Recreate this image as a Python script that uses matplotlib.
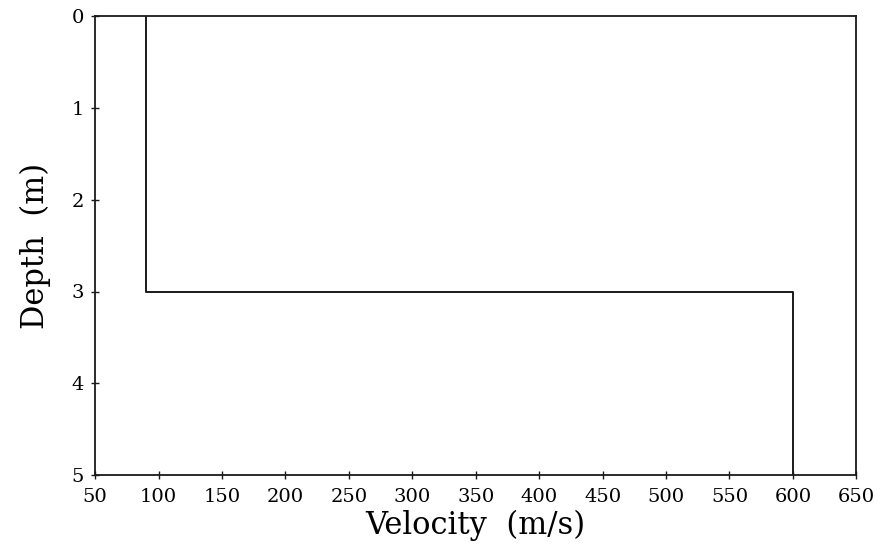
import matplotlib
matplotlib.use("Agg")
import matplotlib.pyplot as plt

# Layered velocity model (step profile)
depth = [0, 3, 3, 5]
velocity = [90, 90, 600, 600]

xticks = [50, 100, 150, 200, 250, 300, 350, 400, 450, 500, 550, 600, 650]
yticks = [0, 1, 2, 3, 4, 5]

plt.rcParams['font.family'] = ['DejaVu Serif']

fig = plt.figure(figsize=(8.81, 5.5), dpi=100)
ax = fig.add_axes([0.108, 0.136, 0.864, 0.835])

ax.plot(velocity, depth, color='#1a1a1a', linewidth=1.4)

ax.set_xlim(50, 650)
ax.set_ylim(5, 0)
ax.set_xticks(xticks)
ax.set_yticks(yticks)
ax.set_xticklabels([str(v) for v in xticks], fontsize=14)
ax.set_yticklabels([str(v) for v in yticks], fontsize=14)
ax.tick_params(axis='x', direction='inout', length=6, width=1.0, pad=6, color='#1a1a1a')
ax.tick_params(axis='y', direction='inout', length=6, width=1.0, pad=5, color='#1a1a1a')

for s in ax.spines.values():
    s.set_linewidth(1.3)
    s.set_color('#1a1a1a')

ax.set_xlabel('Velocity  (m/s)', fontsize=22, labelpad=3)
ax.set_ylabel('Depth  (m)', fontsize=22, labelpad=15)

fig.savefig('out.png', dpi=100)
